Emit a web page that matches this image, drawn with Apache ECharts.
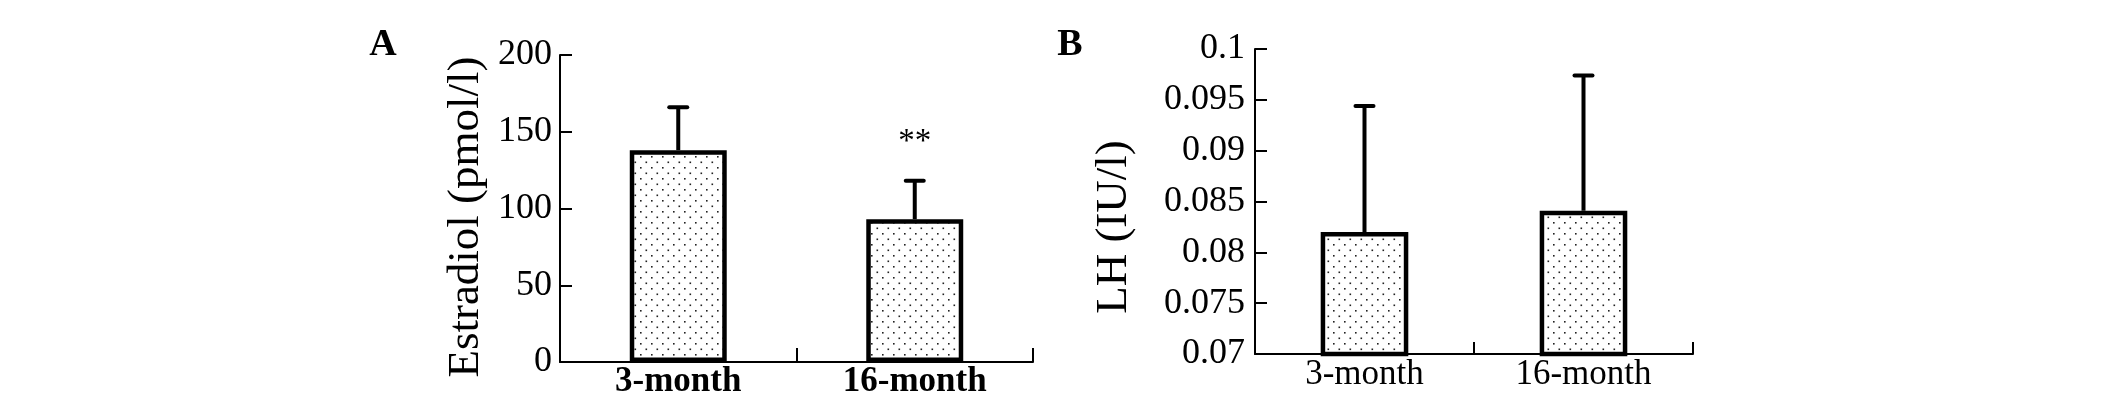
<!DOCTYPE html>
<html>
<head>
<meta charset="utf-8">
<style>
html,body{margin:0;padding:0;background:#fff;}
#c{width:2126px;height:408px;}
</style>
<script src="https://cdn.jsdelivr.net/npm/echarts@6/dist/echarts.min.js"></script>
</head>
<body>
<div id="c"></div>
<script>
// ---- data ----
const categories = ['3-month', '16-month'];
const estradiolMean = [138, 93];
const estradiolErr = [28, 25];
const estradiolSig = ['', '**'];
const lhMean = [0.0820, 0.0841];
const lhErr = [0.0124, 0.0133];
const lhSig = ['', ''];
const ticksA = [0, 50, 100, 150, 200];
const ticksB = ['0.07', '0.075', '0.08', '0.085', '0.09', '0.095', '0.1'];
const minB = 0.07, maxB = 0.1, stepB = 0.005;

const SERIF = '"Liberation Serif", "Times New Roman", serif';

// dotted fill pattern
const pat = document.createElement('canvas');
pat.width = 11; pat.height = 11;
const pc = pat.getContext('2d');
pc.fillStyle = '#fff'; pc.fillRect(0, 0, 11, 11);
pc.fillStyle = '#222';
pc.fillRect(2, 2, 1.6, 1.6);
pc.fillRect(7.5, 7.5, 1.6, 1.6);
const fillPattern = { image: pat, repeat: 'repeat' };

function errRenderer(sig) {
  return function (params, api) {
    const i = api.value(0), m = api.value(1), e = api.value(2);
    const p0 = api.coord([i, m]);
    const p1 = api.coord([i, m + e]);
    const children = [
      { type: 'line', shape: { x1: p0[0], y1: p0[1], x2: p1[0], y2: p1[1] },
        style: { stroke: '#000', lineWidth: 4 } },
      { type: 'line', shape: { x1: p1[0] - 9, y1: p1[1], x2: p1[0] + 9, y2: p1[1] },
        style: { stroke: '#000', lineWidth: 4, lineCap: 'round' } }
    ];
    const s = sig[params.dataIndex];
    if (s) {
      children.push({ type: 'text', x: p1[0], y: p1[1] - 22,
        style: { text: s, font: 'normal 33px ' + SERIF, fill: '#000',
                 align: 'center', verticalAlign: 'bottom',
                 textAlign: 'center', textVerticalAlign: 'bottom' } });
    }
    return { type: 'group', children: children };
  };
}

const axisLine = { show: true, lineStyle: { color: '#000', width: 2 } };
const tick = { show: true, inside: true, lineStyle: { color: '#000', width: 2 } };

const option = {
  animation: false,
  backgroundColor: '#fff',
  grid: [
    { left: 560, top: 55, width: 473, height: 307 },
    { left: 1255, top: 49, width: 438, height: 305 }
  ],
  xAxis: [
    { gridIndex: 0, type: 'category', data: categories, boundaryGap: true,
      axisLine: axisLine, axisTick: Object.assign({ length: 14 }, tick),
      axisLabel: { color: '#000', fontFamily: SERIF, fontSize: 35, fontWeight: 'bold', margin: 2 } },
    { gridIndex: 1, type: 'category', data: categories, boundaryGap: true,
      axisLine: axisLine, axisTick: Object.assign({ length: 12 }, tick),
      axisLabel: { color: '#000', fontFamily: SERIF, fontSize: 35, margin: 3 } }
  ],
  yAxis: [
    { gridIndex: 0, type: 'value', min: ticksA[0], max: ticksA[ticksA.length - 1],
      interval: ticksA[1] - ticksA[0],
      axisLine: axisLine, axisTick: Object.assign({ length: 12 }, tick), splitLine: { show: false },
      axisLabel: { color: '#000', fontFamily: SERIF, fontSize: 36, margin: 8 } },
    { gridIndex: 1, type: 'value', min: minB, max: maxB, interval: stepB,
      axisLine: axisLine, axisTick: Object.assign({ length: 12 }, tick), splitLine: { show: false },
      axisLabel: { color: '#000', fontFamily: SERIF, fontSize: 36, margin: 10,
        formatter: function (v) { return ticksB[Math.round((v - minB) / stepB)]; } } }
  ],
  graphic: [
    { type: 'text', x: 383, y: 45,
      style: { text: 'A', font: 'bold 38px ' + SERIF, fill: '#000',
               align: 'center', verticalAlign: 'middle', textAlign: 'center', textVerticalAlign: 'middle' } },
    { type: 'text', x: 1070, y: 45,
      style: { text: 'B', font: 'bold 38px ' + SERIF, fill: '#000',
               align: 'center', verticalAlign: 'middle', textAlign: 'center', textVerticalAlign: 'middle' } },
    { type: 'text', x: 466, y: 217, rotation: Math.PI / 2,
      style: { text: 'Estradiol (pmol/l)', font: 'normal 45px ' + SERIF, fill: '#000',
               align: 'center', verticalAlign: 'middle', textAlign: 'center', textVerticalAlign: 'middle' } },
    { type: 'text', x: 1114, y: 227, rotation: Math.PI / 2,
      style: { text: 'LH (IU/l)', font: 'normal 45px ' + SERIF, fill: '#000',
               align: 'center', verticalAlign: 'middle', textAlign: 'center', textVerticalAlign: 'middle' } }
  ],
  series: [
    { type: 'bar', xAxisIndex: 0, yAxisIndex: 0, data: estradiolMean, barWidth: '41%',
      itemStyle: { color: fillPattern, borderColor: '#000', borderWidth: 4.5 } },
    { type: 'custom', xAxisIndex: 0, yAxisIndex: 0, z: 5,
      data: categories.map((c, i) => [i, estradiolMean[i], estradiolErr[i]]),
      renderItem: errRenderer(estradiolSig) },
    { type: 'bar', xAxisIndex: 1, yAxisIndex: 1, data: lhMean, barWidth: '40%',
      itemStyle: { color: fillPattern, borderColor: '#000', borderWidth: 4.5 } },
    { type: 'custom', xAxisIndex: 1, yAxisIndex: 1, z: 5,
      data: categories.map((c, i) => [i, lhMean[i], lhErr[i]]),
      renderItem: errRenderer(lhSig) }
  ]
};

const chart = echarts.init(document.getElementById('c'), null, { renderer: 'canvas' });
chart.setOption(option);
</script>
</body>
</html>
